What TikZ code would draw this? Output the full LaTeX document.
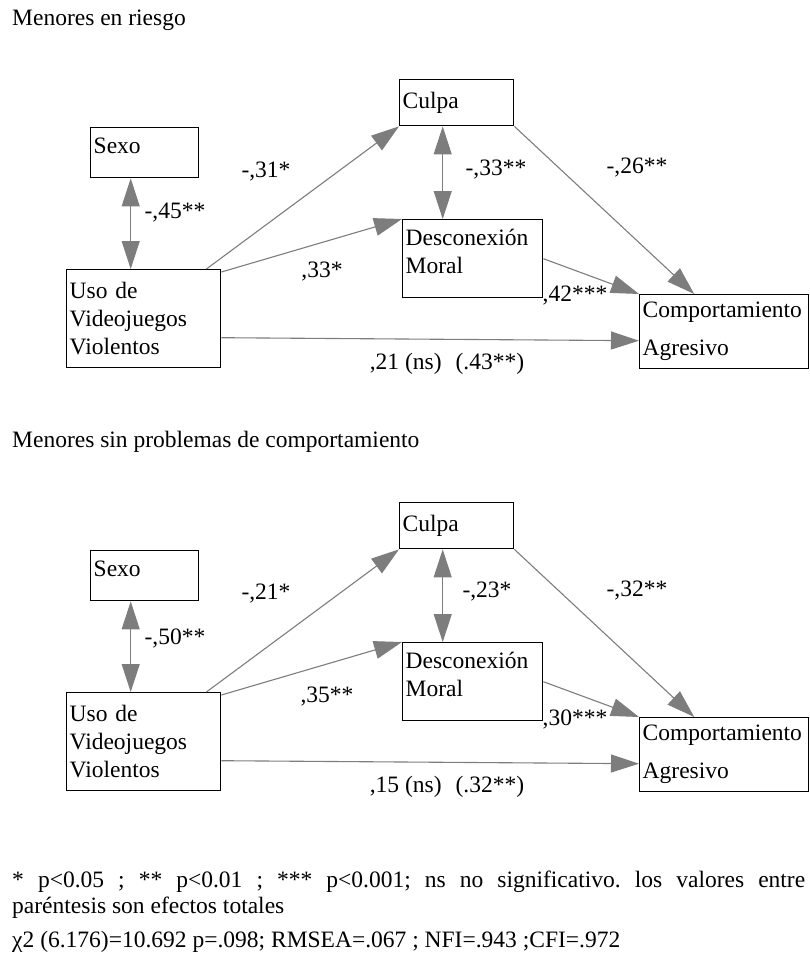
\documentclass[tikz,border=0pt]{standalone}
\usepackage{fontspec}
\setmainfont{Liberation Serif}
\usetikzlibrary{positioning,arrows.meta}
\definecolor{flechagris}{RGB}{125,125,125}
\frenchspacing

\begin{document}
\begin{tikzpicture}
            [x=1pt,y=-1pt,font=\fontsize{23.5}{28}\selectfont,
             caja/.style={draw, line width=1.4pt, anchor=north west, align=left, inner xsep=3pt, inner ysep=0pt},
             flecha/.style={draw=flechagris, line width=1.1pt, -{Triangle[length=28pt,width=18pt]}},
             doble/.style={draw=flechagris, line width=1.1pt, {Triangle[length=28pt,width=18pt]}-{Triangle[length=28pt,width=18pt]}},
             coef/.style={inner sep=0pt}]

            \useasboundingbox (0,0) rectangle (809,960);

            % Menores en riesgo
            \node[anchor=base west, inner sep=0pt] (titulo1) at (12,26) {Menores en riesgo};

            \node[caja, minimum width=108pt, minimum height=50pt, text width=102pt] (sexo1) at (90,127) {Sexo\\[-14pt]\mbox{}};
            \node[caja, minimum width=154pt, minimum height=98pt, text width=148pt] (uso1) at (66,269) {Uso de\\Videojuegos\\Violentos};
            \node[caja, minimum width=114pt, minimum height=46pt, text width=108pt] (culpa1) at (399,79) {Culpa};
            \node[caja, minimum width=140pt, minimum height=78pt, text width=134pt] (desc1) at (402,219) {Desconexión\\Moral\\[-14pt]\mbox{}};
            \node[caja, minimum width=169pt, minimum height=74pt, text width=163pt] (comp1) at (639,294) {Comportamiento\\[10pt]Agresivo};

            \path ([xshift=-14pt]sexo1.south) edge[doble] ([xshift=-13pt]uso1.north)
              ([xshift=-15pt]uso1.north east) edge[flecha] (culpa1.south west)
              ([yshift=-3pt]uso1.north east) edge[flecha] (desc1.north west)
              ([xshift=-14pt]culpa1.south) edge[doble] ([xshift=-30pt]desc1.north)
              (culpa1.south east) edge[flecha] ([xshift=-30pt]comp1.north)
              (desc1.east) edge[flecha] (comp1.north west)
              ([yshift=-19pt]uso1.east) edge[flecha] ([yshift=-9pt]comp1.west);

            \node[coef] (r1) at (175,213) {-,45**};
            \node[coef] (b1) at (266,172) {-,31*};
            \node[coef] (c1) at (322,272) {,33*};
            \node[coef] (r2) at (496,170) {-,33**};
            \node[coef] (d1) at (637,168) {-,26**};
            \node[coef] (e1) at (575,296) {,42***};
            \node[coef] (f1) at (447,364) {,21 (ns)\hspace{14pt}(.43**)};

            % Menores sin problemas de comportamiento
            \begin{scope}[yshift=-423pt]
            \node[anchor=base west, inner sep=0pt] (titulo2) at (12,24) {Menores sin problemas de comportamiento};

            \node[caja, minimum width=108pt, minimum height=50pt, text width=102pt] (sexo2) at (90,127) {Sexo\\[-14pt]\mbox{}};
            \node[caja, minimum width=154pt, minimum height=98pt, text width=148pt] (uso2) at (66,269) {Uso de\\Videojuegos\\Violentos};
            \node[caja, minimum width=114pt, minimum height=46pt, text width=108pt] (culpa2) at (399,79) {Culpa};
            \node[caja, minimum width=140pt, minimum height=78pt, text width=134pt] (desc2) at (402,219) {Desconexión\\Moral\\[-14pt]\mbox{}};
            \node[caja, minimum width=169pt, minimum height=74pt, text width=163pt] (comp2) at (639,294) {Comportamiento\\[10pt]Agresivo};

            \path ([xshift=-14pt]sexo2.south) edge[doble] ([xshift=-13pt]uso2.north)
              ([xshift=-15pt]uso2.north east) edge[flecha] (culpa2.south west)
              ([yshift=-3pt]uso2.north east) edge[flecha] (desc2.north west)
              ([xshift=-14pt]culpa2.south) edge[doble] ([xshift=-30pt]desc2.north)
              (culpa2.south east) edge[flecha] ([xshift=-30pt]comp2.north)
              (desc2.east) edge[flecha] (comp2.north west)
              ([yshift=-19pt]uso2.east) edge[flecha] ([yshift=-9pt]comp2.west);

            \node[coef] (r3) at (175,215) {-,50**};
            \node[coef] (b2) at (266,171) {-,21*};
            \node[coef] (c2) at (327,274) {,35**};
            \node[coef] (r4) at (487,169) {-,23*};
            \node[coef] (d2) at (637,168) {-,32**};
            \node[coef] (e2) at (575,296) {,30***};
            \node[coef] (f2) at (447,364) {,15 (ns)\hspace{14pt}(.32**)};
            \end{scope}

            % nota
            \node[anchor=north west, inner sep=0pt, text width=793pt, align=justify, font=\fontsize{23.5}{26}\selectfont] (nota) at (12,871)
              {* p<0.05 ; ** p<0.01 ; *** p<0.001; ns no significativo. los valores entre\linebreak paréntesis son efectos totales};
            \node[anchor=base west, inner sep=0pt] (ajuste) at (12,947) {χ2 (6.176)=10.692 p=.098; RMSEA=.067 ; NFI=.943 ;CFI=.972};
        \end{tikzpicture}
\end{document}
